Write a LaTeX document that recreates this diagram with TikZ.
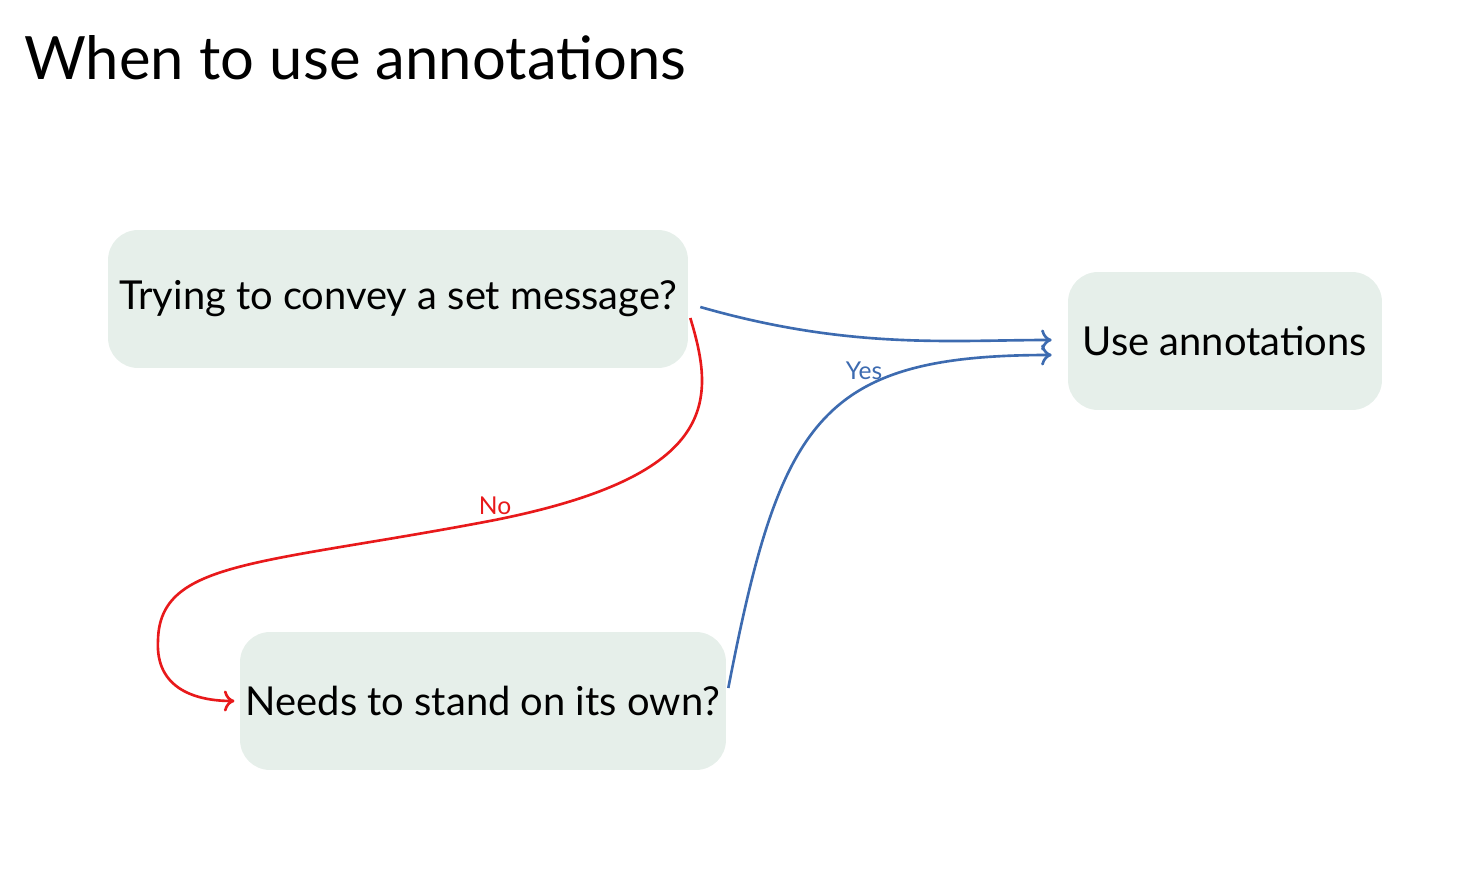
\documentclass[tikz,border=0pt]{standalone}
\usepackage{fontspec}
\setmainfont{Lato}
\usetikzlibrary{positioning,calc,arrows.meta}
\definecolor{boxfill}{HTML}{E6EFEA}
\definecolor{yesblue}{HTML}{3D6BB0}
\definecolor{nored}{HTML}{E8191B}

\begin{document}
\begin{tikzpicture}[
    x=0.02cm, y=-0.02cm,
    question/.style={rectangle, fill=boxfill, rounded corners=0.6cm, inner sep=0pt, minimum height=2.76cm, text centered, font=\fontsize{22.7}{27}\selectfont},
    yesarrow/.style={draw=yesblue, line width=1.5pt, -{To[length=6pt,width=12pt]}},
    noarrow/.style={draw=nored, line width=1.5pt, -{To[length=6pt,width=12pt]}},
    label/.style={font=\fontsize{14}{16}\selectfont}
]
    \useasboundingbox (0,0) rectangle (1464,888);

    % Title
    \node[anchor=base west, inner sep=0pt, font=\fontsize{34}{40}\selectfont] (title) at (24,80) {When to use annotations};

    % Boxes
    \node[question, minimum width=11.6cm] (convey) at (398,299) {Trying to convey a set message?};
    \node[question, minimum width=9.72cm] (stand) at (483,701) {Needs to stand on its own?};
    \node[question, minimum width=6.28cm] (use) at (1225,341) {Use annotations};

    % Arrows
    \draw[yesarrow] ([shift={(12,8)}]convey.east) .. controls +(150,43) and +(-100,0) .. ([shift={(-16,-1)}]use.west);
    \draw[yesarrow] ([shift={(2,-13)}]stand.east) .. controls +(52,-268) and +(-232,0) .. ([shift={(-16,14)}]use.west);
    \draw[noarrow] ([shift={(2,19)}]convey.east) .. controls +(25,82) and +(225,-45) .. (495,520)
        .. controls +(-235,45) and +(2,-80) .. (158,640)
        .. controls +(-3,50) and +(-37,0) .. ([xshift=-3]stand.west);
    \node[label, text=yesblue] (yeslabel) at (864,371) {Yes};
    \node[label, text=nored] (nolabel) at (495,506) {No};
\end{tikzpicture}
\end{document}
